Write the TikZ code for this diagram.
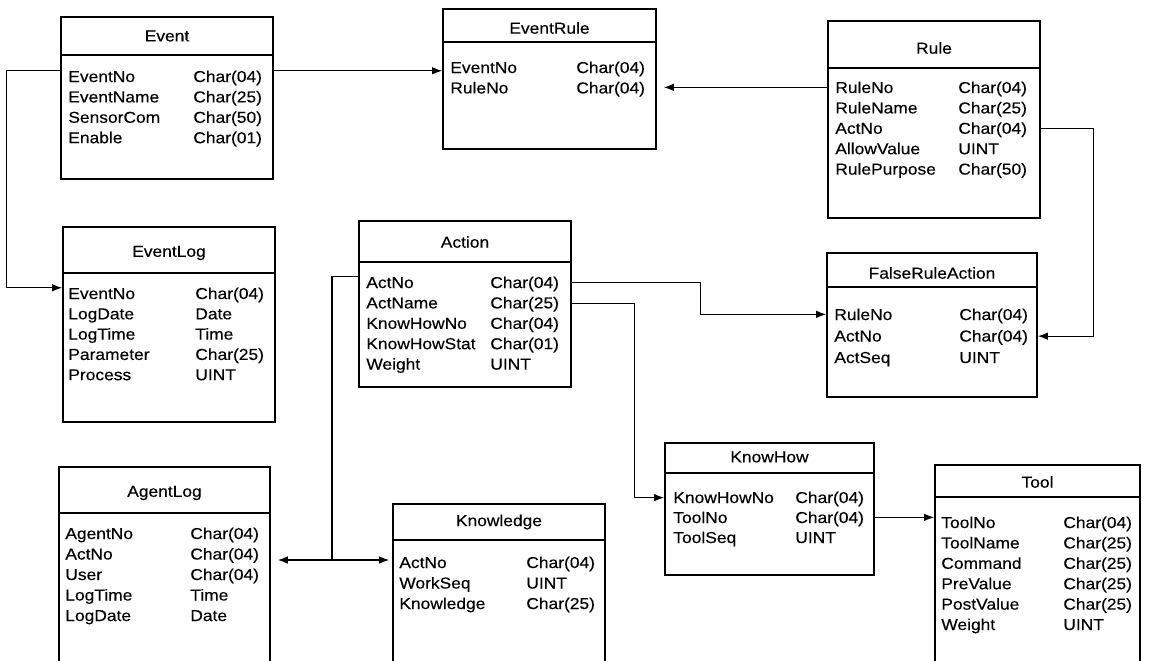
\documentclass[tikz,border=0pt]{standalone}
\usepackage{fontspec}
\setmainfont{Liberation Sans}[FakeStretch=1.1, FakeBold=0.3]
\usepackage{tikz}
\usetikzlibrary{arrows.meta}
\usetikzlibrary{fit}

\begin{document}
\begin{tikzpicture}[x=0.02cm, y=-0.02cm, >={Latex[length=2mm,width=1.5mm]},
  tablebox/.style={draw, line width=1pt, inner sep=0pt},
  hdrline/.style={line width=1pt},
  tabtitle/.style={font=\fontsize{9}{11}\selectfont, inner sep=0pt},
  fieldname/.style={font=\fontsize{9}{11}\selectfont, anchor=base west, inner sep=0pt},
  fieldtype/.style={font=\fontsize{9}{11}\selectfont, anchor=base west, inner sep=0pt},
  link/.style={line width=0.6pt}]
  \useasboundingbox (0,0) rectangle (1150,660);
  \clip (0,0) rectangle (1150,660);

  % ===== Event =====
  \node[tablebox, fit={(61,17) (273,179)}] (event) {};
  \draw[hdrline] (event.west |- 0,55) -- (event.east |- 0,55);
  \node[tabtitle] (event-title) at (event.center |- 0,36) {Event};
  \foreach \n/\t [count=\i] in {EventNo/Char(04), EventName/Char(25), SensorCom/Char(50), Enable/Char(01)} {
    \node[fieldname] (event-\i) at (68,{82+20.4*(\i-1)}) {\n};
    \node[fieldtype] (event-\i t) at (193,{82+20.4*(\i-1)}) {\t};
  }

  % ===== EventRule =====
  \node[tablebox, fit={(443,9) (656,149)}] (erule) {};
  \draw[hdrline] (erule.west |- 0,42) -- (erule.east |- 0,42);
  \node[tabtitle] (erule-title) at (erule.center |- 0,28) {EventRule};
  \foreach \n/\t [count=\i] in {EventNo/Char(04), RuleNo/Char(04)} {
    \node[fieldname] (erule-\i) at (450,{73+20.4*(\i-1)}) {\n};
    \node[fieldtype] (erule-\i t) at (576,{73+20.4*(\i-1)}) {\t};
  }

  % ===== Rule =====
  \node[tablebox, fit={(828,21) (1040,218)}] (rule) {};
  \draw[hdrline] (rule.west |- 0,68) -- (rule.east |- 0,68);
  \node[tabtitle] (rule-title) at (rule.center |- 0,48) {Rule};
  \foreach \n/\t [count=\i] in {RuleNo/Char(04), RuleName/Char(25), ActNo/Char(04), AllowValue/UINT, RulePurpose/Char(50)} {
    \node[fieldname] (rule-\i) at (835,{93+20.4*(\i-1)}) {\n};
    \node[fieldtype] (rule-\i t) at (958,{93+20.4*(\i-1)}) {\t};
  }

  % ===== EventLog =====
  \node[tablebox, fit={(63,227) (275,422)}] (evlog) {};
  \draw[hdrline] (evlog.west |- 0,273) -- (evlog.east |- 0,273);
  \node[tabtitle] (evlog-title) at (evlog.center |- 0,253) {EventLog};
  \foreach \n/\t [count=\i] in {EventNo/Char(04), LogDate/Date, LogTime/Time, Parameter/Char(25), Process/UINT} {
    \node[fieldname] (evlog-\i) at (68,{299+20.3*(\i-1)}) {\n};
    \node[fieldtype] (evlog-\i t) at (195,{299+20.3*(\i-1)}) {\t};
  }

  % ===== Action =====
  \node[tablebox, fit={(359,221) (571,387)}] (action) {};
  \draw[hdrline] (action.west |- 0,262) -- (action.east |- 0,262);
  \node[tabtitle] (action-title) at (action.center |- 0,242) {Action};
  \foreach \n/\t [count=\i] in {ActNo/Char(04), ActName/Char(25), KnowHowNo/Char(04), KnowHowStat/Char(01), Weight/UINT} {
    \node[fieldname] (action-\i) at (366,{288+20.4*(\i-1)}) {\n};
    \node[fieldtype] (action-\i t) at (490,{288+20.4*(\i-1)}) {\t};
  }

  % ===== FalseRuleAction =====
  \node[tablebox, fit={(827,253) (1037,397)}] (fra) {};
  \draw[hdrline] (fra.west |- 0,287) -- (fra.east |- 0,287);
  \node[tabtitle] (fra-title) at (fra.center |- 0,273) {FalseRuleAction};
  \foreach \n/\t [count=\i] in {RuleNo/Char(04), ActNo/Char(04), ActSeq/UINT} {
    \node[fieldname] (fra-\i) at (834,{320+21.5*(\i-1)}) {\n};
    \node[fieldtype] (fra-\i t) at (959,{320+21.5*(\i-1)}) {\t};
  }

  % ===== AgentLog =====
  \node[tablebox, fit={(59,467) (270,666)}] (agent) {};
  \draw[hdrline] (agent.west |- 0,513) -- (agent.east |- 0,513);
  \node[tabtitle] (agent-title) at (agent.center |- 0,493) {AgentLog};
  \foreach \n/\t [count=\i] in {AgentNo/Char(04), ActNo/Char(04), User/Char(04), LogTime/Time, LogDate/Date} {
    \node[fieldname] (agent-\i) at (65,{539+20.5*(\i-1)}) {\n};
    \node[fieldtype] (agent-\i t) at (190,{539+20.5*(\i-1)}) {\t};
  }

  % ===== Knowledge =====
  \node[tablebox, fit={(393,504) (605,666)}] (know) {};
  \draw[hdrline] (know.west |- 0,540) -- (know.east |- 0,540);
  \node[tabtitle] (know-title) at (know.center |- 0,522) {Knowledge};
  \foreach \n/\t [count=\i] in {ActNo/Char(04), WorkSeq/UINT, Knowledge/Char(25)} {
    \node[fieldname] (know-\i) at (399,{568+20.5*(\i-1)}) {\n};
    \node[fieldtype] (know-\i t) at (526,{568+20.5*(\i-1)}) {\t};
  }

  % ===== KnowHow =====
  \node[tablebox, fit={(665,443) (874,575)}] (kh) {};
  \draw[hdrline] (kh.west |- 0,473) -- (kh.east |- 0,473);
  \node[tabtitle] (kh-title) at (kh.center |- 0,457) {KnowHow};
  \foreach \n/\t [count=\i] in {KnowHowNo/Char(04), ToolNo/Char(04), ToolSeq/UINT} {
    \node[fieldname] (kh-\i) at (673,{503+20*(\i-1)}) {\n};
    \node[fieldtype] (kh-\i t) at (795,{503+20*(\i-1)}) {\t};
  }

  % ===== Tool =====
  \node[tablebox, fit={(935,465) (1140,666)}] (tool) {};
  \draw[hdrline] (tool.west |- 0,497) -- (tool.east |- 0,497);
  \node[tabtitle] (tool-title) at (tool.center |- 0,482) {Tool};
  \foreach \n/\t [count=\i] in {ToolNo/Char(04), ToolName/Char(25), Command/Char(25), PreValue/Char(25), PostValue/Char(25), Weight/UINT} {
    \node[fieldname] (tool-\i) at (941,{528+20.4*(\i-1)}) {\n};
    \node[fieldtype] (tool-\i t) at (1063,{528+20.4*(\i-1)}) {\t};
  }

  % ===== Links =====
  \draw[link, ->] (event-1.north -| event.west) -- ++(-54,0) |- (evlog-1.north -| evlog.west);
  \draw[link, ->] (event-1.north -| event.east) -- (event-1.north -| erule.west);
  \draw[link, ->, shorten >=1.4mm] (rule-1 -| rule.west) -- (rule-1 -| erule.east);
  \draw[link, ->] (rule-3 -| rule.east) -- ++(53,0) |- (fra-2 -| fra.east);
  \draw[link, ->] (action-1 -| action.east) -- ++(129,0) |- (fra-1 -| fra.west);
  \draw[link, ->] (action-2 -| action.east) -- ++(63,0) |- (kh-1 -| kh.west);
  \coordinate (split) at (332,560);
  \draw[link] (action-1.north -| action.west) -| (split);
  \draw[link, ->, shorten >=1.4mm] (split) -- (split -| agent.east);
  \draw[link, ->, shorten >=0.6mm] (split) -- (split -| know.west);
  \draw[link, ->] (kh-2 -| kh.east) -- (kh-2 -| tool.west);
\end{tikzpicture}
\end{document}
